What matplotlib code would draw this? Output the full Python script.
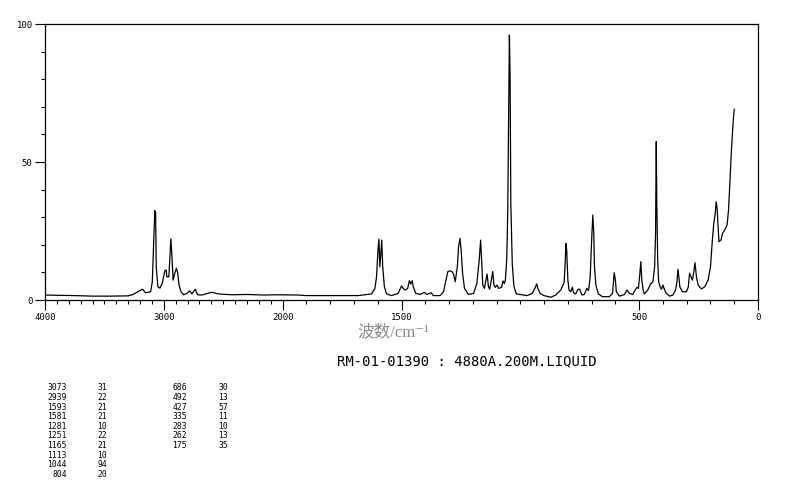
# Raman spectrum RM-01-01390 (4880A, 200mW, liquid)

import numpy as np
import matplotlib
matplotlib.use('Agg')
import matplotlib.pyplot as plt

# spectrum: wavenumber (cm-1) and relative intensity
wavenumber = [4000, 3900, 3750, 3600, 3450, 3300, 3264, 3180, 3153, 3111,
              3097, 3083, 3076, 3069, 3064, 3050, 3033, 3014, 2991, 2980,
              2975, 2958, 2950, 2941, 2933, 2922, 2908, 2894, 2883, 2872,
              2855, 2833, 2806, 2783, 2764, 2736, 2716, 2681, 2597, 2541,
              2431, 2300, 2152, 2050, 1936, 1903, 1797, 1683, 1653, 1626,
              1612, 1605, 1599, 1595, 1591, 1583, 1579, 1572, 1563, 1542,
              1514, 1500, 1493, 1485, 1474, 1467, 1461, 1455, 1450, 1440,
              1421, 1404, 1394, 1375, 1366, 1337, 1323, 1313, 1305, 1295,
              1288, 1281, 1274, 1265, 1260, 1254, 1249, 1243, 1235, 1218,
              1197, 1183, 1173, 1167, 1163, 1158, 1151, 1144, 1140, 1134,
              1129, 1122, 1116, 1111, 1105, 1098, 1091, 1079, 1073, 1067,
              1063, 1057, 1053, 1050, 1046, 1043, 1040, 1034, 1027, 1017,
              971, 950, 939, 931, 926, 917, 901, 872, 851, 830,
              816, 812, 808, 805, 800, 795, 788, 781, 776, 767,
              757, 750, 741, 731, 720, 713, 706, 700, 695, 691,
              688, 682, 672, 654, 626, 612, 605, 600, 596, 583,
              562, 551, 541, 527, 517, 509, 503, 497, 493, 489,
              483, 478, 464, 452, 442, 435, 431, 428, 426, 422,
              418, 411, 406, 400, 394, 386, 372, 358, 347, 341,
              337, 333, 329, 318, 301, 293, 288, 282, 276, 271,
              265, 259, 252, 238, 224, 210, 200, 192, 186, 180,
              176, 172, 168, 164, 156, 149, 140, 130, 124, 118,
              111, 104, 100]
intensity = [1.8, 1.7, 1.6, 1.4, 1.4, 1.5, 1.9, 3.9, 2.6, 3.0,
             6.6, 24, 32.4, 31.5, 12, 4.8, 4.3, 6.0, 10.6, 10.9,
             8.4, 8.4, 14.5, 22.1, 16.9, 7.2, 9.7, 11.5, 9.7, 5.4,
             3.0, 1.9, 2.4, 3.3, 2.2, 3.9, 1.9, 1.8, 2.8, 2.2,
             1.9, 2.0, 1.8, 1.9, 1.8, 1.6, 1.6, 1.6, 1.9, 2.2,
             4.2, 8.4, 18.1, 22, 12, 21.7, 12, 4.8, 2.2, 1.6,
             2.4, 5.1, 4.2, 3.6, 4.2, 7.0, 5.8, 7.0, 4.6, 2.4,
             2.0, 2.8, 2.0, 2.6, 1.6, 1.6, 3.0, 7.2, 10.3, 10.6,
             10.3, 9.4, 6.6, 12, 19.3, 22.3, 18.1, 9.7, 4.2, 2.0,
             2.4, 6.0, 14.5, 21.7, 14.5, 5.4, 4.2, 7.5, 9.4, 4.8,
             3.9, 7.2, 10.3, 5.4, 4.6, 5.4, 4.2, 4.6, 6.9, 6.0,
             7.2, 15, 32, 60, 96, 80, 35, 13, 5, 2.2,
             1.6, 2.4, 4.2, 5.8, 4.2, 2.4, 1.6, 1.0, 1.8, 3.6,
             6.3, 12, 20.5, 18.1, 7.2, 3.6, 3.0, 4.6, 2.6, 2.2,
             3.9, 3.9, 1.8, 2.0, 4.2, 3.4, 8.4, 21.7, 30.8, 24.2,
             12, 5.4, 2.2, 1.2, 1.2, 2.4, 9.9, 7.2, 3.0, 1.4,
             2.0, 3.6, 2.4, 2.0, 3.6, 4.6, 4.2, 9.7, 13.9, 7.2,
             3.6, 2.2, 3.6, 5.8, 6.6, 12, 24.2, 57.4, 36, 14.5,
             6.6, 4.6, 3.9, 5.4, 3.9, 2.4, 1.4, 1.8, 3.6, 6.6,
             11.1, 8.4, 4.8, 3.0, 3.0, 4.8, 9.7, 8.4, 7.2, 9.7,
             13.5, 8.4, 5.4, 4.0, 4.8, 7.2, 12, 21.7, 27.8, 31.4,
             35.6, 33.2, 26.6, 21.1, 21.7, 24.2, 25.4, 27.2, 32.6, 43.5,
             55.5, 65.2, 69.1]

# peak table printed under the chart
peak_wn_1 = ['3073', '2939', '1593', '1581', '1281', '1251', '1165', '1113', '1044', '804']
peak_int_1 = ['31', '22', '21', '21', '10', '22', '21', '10', '94', '20']
peak_wn_2 = ['686', '492', '427', '335', '283', '262', '175']
peak_int_2 = ['30', '13', '57', '11', '10', '13', '35']

x_ticks = [4000, 3000, 2000, 1500, 500, 0]
y_ticks = [0, 50, 100]
title = 'RM-01-01390 : 4880A.200M.LIQUID'

mono = 'DejaVu Sans Mono'

# the 4000-2000 part of the axis is drawn at half scale
def fwd(w):
    w = np.asarray(w, dtype=float)
    return np.where(w > 2000, 2000 + (w - 2000) / 2, w)

def inv(u):
    u = np.asarray(u, dtype=float)
    return np.where(u > 2000, 2000 + (u - 2000) * 2, u)

fig = plt.figure(figsize=(7.94, 4.82), dpi=100)
ax = fig.add_axes([45 / 794, 182 / 482, 713 / 794, 276 / 482])
ax.set_xscale('function', functions=(fwd, inv))
ax.plot(wavenumber, intensity, color='black', linewidth=0.9)
ax.set_xlim(4000, 0)
ax.set_ylim(0, 100)

ax.set_xticks(x_ticks)
ax.set_xticks(np.arange(0, 4001, 100), minor=True)
ax.set_yticks(y_ticks)
ax.set_yticks(np.arange(0, 101, 10), minor=True)
ax.tick_params(which='major', length=7, width=0.8, direction='out', pad=2, labelsize=6.5)
ax.tick_params(which='minor', length=3, width=0.8, direction='out')
for lab in ax.get_xticklabels() + ax.get_yticklabels():
    lab.set_family(mono)
for s in ax.spines.values():
    s.set_linewidth(0.9)

fig.text(393 / 794, 1 - 332 / 482, '波数/cm⁻¹', color='#8a8a8a', fontsize=12,
         family=['Liberation Serif', 'Noto Sans CJK SC', 'DejaVu Serif'],
         ha='center', va='center')
fig.text(337 / 794, 1 - 361 / 482, title, fontsize=10, family=mono,
         ha='left', va='center')

row_h = 9.6
for i in range(len(peak_wn_1)):
    yy = 1 - (388 + i * row_h) / 482
    fig.text(67 / 794, yy, peak_wn_1[i], fontsize=5.8, family=mono, ha='right', va='center')
    fig.text(107 / 794, yy, peak_int_1[i], fontsize=5.8, family=mono, ha='right', va='center')
for i in range(len(peak_wn_2)):
    yy = 1 - (388 + i * row_h) / 482
    fig.text(187 / 794, yy, peak_wn_2[i], fontsize=5.8, family=mono, ha='right', va='center')
    fig.text(228 / 794, yy, peak_int_2[i], fontsize=5.8, family=mono, ha='right', va='center')

fig.savefig('out.png', dpi=100)
